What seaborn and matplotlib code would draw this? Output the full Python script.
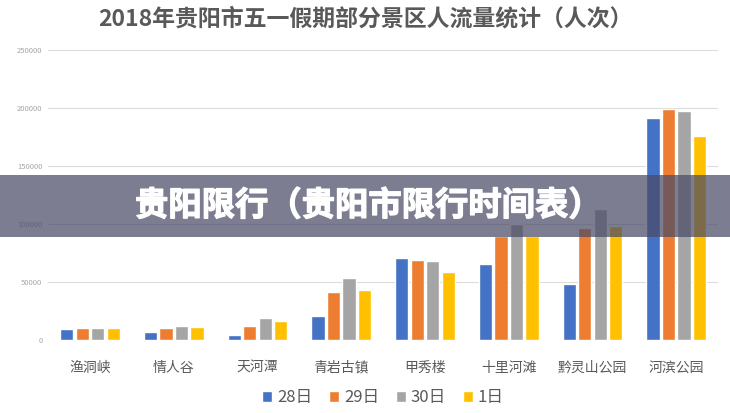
import matplotlib
matplotlib.use("Agg")
import matplotlib.pyplot as plt
import matplotlib.patheffects as pe
import seaborn as sns
import pandas as pd
from matplotlib.patches import Rectangle

# data
spots = ["渔洞峡", "情人谷", "天河潭", "青岩古镇", "甲秀楼", "十里河滩", "黔灵山公园", "河滨公园"]
days = ["28日", "29日", "30日", "1日"]
day28 = [9500, 7200, 4600, 20700, 71000, 65500, 48000, 191000]
day29 = [10600, 10000, 12300, 41100, 68700, 89800, 96500, 199000]
day30 = [10600, 12000, 19200, 53400, 68400, 100000, 112800, 197700]
day1 = [10000, 11000, 16400, 43100, 58400, 90000, 98300, 175800]
colors = ["#4472c4", "#ed7d31", "#a5a5a5", "#ffc000"]

rows = []
for day, vals in zip(days, [day28, day29, day30, day1]):
    for s, v in zip(spots, vals):
        rows.append({"景区": s, "日期": day, "人次": v})
df = pd.DataFrame(rows)

sns.set_theme(style="white")
plt.rcParams["font.family"] = ["Noto Sans CJK SC", "DejaVu Sans"]

fig = plt.figure(figsize=(7.3, 4.13), dpi=100)
ax = fig.add_axes([0.0658, 0.1768, 0.918, 0.7022])

sns.barplot(data=df, x="景区", y="人次", hue="日期", hue_order=days,
            palette=colors, width=0.74, gap=0.15, saturation=1, ax=ax)

ax.set_ylim(0, 250000)
ax.set_xlim(-0.5, len(spots) - 0.5)
ax.set_yticks(range(0, 250001, 50000))
ax.set_yticklabels([str(t) for t in range(0, 250001, 50000)])
ax.yaxis.grid(True, color="#dcdcdc", linewidth=0.8)
ax.set_axisbelow(True)
for sp in ax.spines.values():
    sp.set_visible(False)
ax.set_xlabel("")
ax.set_ylabel("")
ax.tick_params(axis="y", labelsize=5.5, labelcolor="#a6a6a6", length=0, pad=4)
ax.tick_params(axis="x", labelsize=10, labelcolor="#595959", length=0, pad=15)

ax.legend(loc="center", bbox_to_anchor=(0.5, -0.2), ncol=4, frameon=False,
          fontsize=12, handlelength=0.6, handleheight=0.6, handletextpad=0.3,
          columnspacing=1.0, labelcolor="#595959")

fig.text(0.5, 0.953, "2018年贵阳市五一假期部分景区人流量统计（人次）", ha="center", va="center",
         fontsize=16.5, fontweight="bold", color="#595959")

# grey banner over the chart
fig.patches.append(Rectangle((0, 1 - 237 / 413), 1, 62 / 413, transform=fig.transFigure,
                             facecolor="#4a4b66", alpha=0.72, edgecolor="none", zorder=5))
fig.text(0.505, 1 - 206 / 413, "贵阳限行（贵阳市限行时间表）", ha="center", va="center",
         fontsize=24, fontweight="bold", color="white", zorder=6,
         path_effects=[pe.withStroke(linewidth=0.9, foreground="white")])

fig.savefig("out.png", dpi=100)
